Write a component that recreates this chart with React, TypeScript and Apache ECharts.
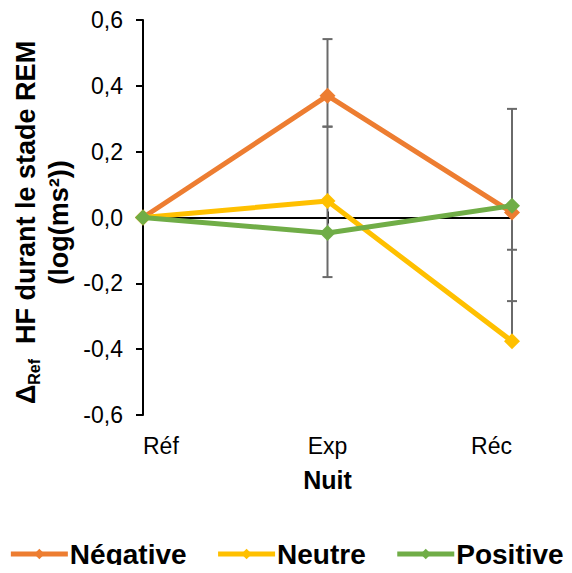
import React, { useEffect, useRef } from "react";
import * as echarts from "echarts";

const categories = ["Réf", "Exp", "Réc"];
const seriesNames = ["Négative", "Neutre", "Positive"];
const negative = [0, 0.37, 0.015];
const neutral = [0, 0.05, -0.376];
const positive = [0, -0.047, 0.036];
// error bar extents (up / down) per series
const negativePlus = [0, 0.172, 0.315];
const negativeMinus = [0, 0.094, 0];
const neutralPlus = [0, 0.226, 0.278];
const neutralMinus = [0, 0.231, 0];
const positivePlus = [0, 0, 0];
const positiveMinus = [0, 0, 0.29];
const yTicks = { min: -0.6, max: 0.6, interval: 0.2 };

const colors = ["#ED7D31", "#FFC000", "#70AD47"];
const FONT = "Arial, 'Liberation Sans', sans-serif";

const GRID = { left: 143, right: 60, top: 20, bottom: 158 };
const CHART_H = 573;

export default function App() {
  const ref = useRef<HTMLDivElement>(null);
  useEffect(() => {
    if (!ref.current) return;
    const chart = echarts.init(ref.current, null, { renderer: "svg" });
    const values = [negative, neutral, positive];
    const plus = [negativePlus, neutralPlus, positivePlus];
    const minus = [negativeMinus, neutralMinus, positiveMinus];
    const errData: number[][] = [];
    values.forEach((vals, s) => {
      vals.forEach((v, i) => {
        if (plus[s][i] > 0) errData.push([i, v, v + plus[s][i]]);
        if (minus[s][i] > 0) errData.push([i, v, v - minus[s][i]]);
      });
    });
    const catAxisBase = {
      type: "category",
      data: categories,
      boundaryGap: false,
      gridIndex: 0,
    };
    const gridH = CHART_H - GRID.top - GRID.bottom;
    // the zero value sits at this distance above the grid bottom
    const zeroOffset = (gridH * (0 - yTicks.min)) / (yTicks.max - yTicks.min);
    chart.setOption({
      animation: false,
      textStyle: { fontFamily: FONT },
      grid: { ...GRID, containLabel: false },
      xAxis: [
        {
          ...catAxisBase,
          position: "bottom",
          axisLine: { show: false, onZero: false },
          axisTick: { show: false },
          axisLabel: {
            show: true,
            fontSize: 23,
            color: "#000",
            fontFamily: FONT,
            margin: 19,
            alignMinLabel: "left",
            alignMaxLabel: "right",
          },
          name: "Nuit",
          nameLocation: "middle",
          nameGap: 52,
          nameTextStyle: { fontSize: 25, fontWeight: "bold", color: "#000", fontFamily: FONT },
        },
        {
          ...catAxisBase,
          position: "bottom",
          axisLine: { show: true, onZero: true, lineStyle: { color: "#000", width: 2 } },
          axisTick: { show: true, inside: false, length: 6, alignWithLabel: true, lineStyle: { color: "#000", width: 2 } },
          axisLabel: { show: false },
        },
        {
          ...catAxisBase,
          position: "bottom",
          offset: -zeroOffset,
          axisLine: { show: false, onZero: false },
          axisTick: { show: true, inside: true, length: 6, alignWithLabel: true, lineStyle: { color: "#000", width: 2 } },
          axisLabel: { show: false },
        },
      ],
      yAxis: {
        type: "value",
        min: yTicks.min,
        max: yTicks.max,
        interval: yTicks.interval,
        axisLine: { show: true, onZero: false, lineStyle: { color: "#000", width: 2 } },
        axisTick: { show: true, length: 7, lineStyle: { color: "#000", width: 2 } },
        splitLine: { show: false },
        axisLabel: {
          fontSize: 23,
          color: "#000",
          fontFamily: FONT,
          margin: 20,
          formatter: (v: number) => v.toFixed(1).replace(".", ",").replace("-0,0", "0,0"),
        },
        name: "{b|Δ}{sub|Ref}{b|  HF durant le stade REM}\n{b|(log(ms²))}",
        nameLocation: "middle",
        nameRotate: 90,
        nameGap: 68,
        nameTextStyle: {
          padding: [0, 10, 0, 0],
          rich: {
            b: { fontSize: 27, fontWeight: "bold", color: "#000", fontFamily: FONT, lineHeight: 33 },
            sub: { fontSize: 16, fontWeight: "bold", color: "#000", fontFamily: FONT, lineHeight: 33, verticalAlign: "bottom" },
          },
        },
      },
      legend: {
        bottom: 0,
        left: "center",
        itemWidth: 57,
        itemHeight: 13,
        itemGap: 29,
        lineStyle: { width: 5 },
        textStyle: { fontSize: 28, fontWeight: "bold", color: "#000", fontFamily: FONT, padding: [0, 0, 0, -3] },
        data: seriesNames,
      },
      series: [
        {
          type: "custom",
          name: "errorbars",
          xAxisIndex: 0,
          z: 1,
          silent: true,
          data: errData,
          encode: { x: 0, y: [1, 2] },
          renderItem: (params: any, api: any) => {
            const x = api.value(0);
            const p0 = api.coord([x, api.value(1)]);
            const p1 = api.coord([x, api.value(2)]);
            const hw = 5;
            return {
              type: "group",
              children: [
                { type: "line", shape: { x1: p0[0], y1: p0[1], x2: p1[0], y2: p1[1] }, style: { stroke: "#6A6A6A", lineWidth: 2 } },
                { type: "line", shape: { x1: p1[0] - hw, y1: p1[1], x2: p1[0] + hw, y2: p1[1] }, style: { stroke: "#6A6A6A", lineWidth: 2 } },
              ],
            };
          },
        },
        ...values.map((vals, s) => ({
          type: "line",
          name: seriesNames[s],
          data: vals,
          xAxisIndex: 0,
          z: 3 + s,
          symbol: "diamond",
          symbolSize: 16,
          color: colors[s],
          lineStyle: { width: 5, color: colors[s] },
          itemStyle: { color: colors[s] },
        })),
      ],
    });
    return () => chart.dispose();
  }, []);
  return <div ref={ref} style={{ width: 572, height: CHART_H, margin: -8 }} />;
}
